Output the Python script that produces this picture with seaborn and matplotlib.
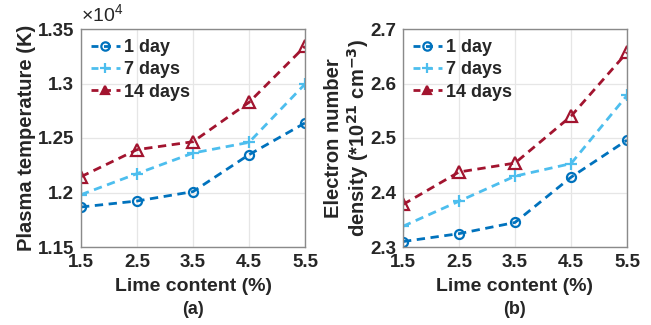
import matplotlib
matplotlib.use("Agg")
import matplotlib.pyplot as plt
import seaborn as sns
from matplotlib.ticker import FuncFormatter, FixedLocator
from matplotlib.lines import Line2D

lime = [1.5, 2.5, 3.5, 4.5, 5.5]
series = ["1 day", "7 days", "14 days"]
temp_1 = [11867, 11922, 12008, 12347, 12638]
temp_7 = [11980, 12173, 12362, 12460, 12995]
temp_14 = [12145, 12393, 12466, 12827, 13341]
dens_1 = [2.310, 2.3245, 2.345, 2.428, 2.496]
dens_7 = [2.338, 2.384, 2.430, 2.453, 2.578]
dens_14 = [2.378, 2.4376, 2.454, 2.540, 2.657]
xticks = [1.5, 2.5, 3.5, 4.5, 5.5]
temp_ticks = [11500, 12000, 12500, 13000, 13500]
dens_ticks = [2.3, 2.4, 2.5, 2.6, 2.7]

sns.set_style("white")
plt.rcParams["font.family"] = ["Liberation Sans", "DejaVu Sans"]
plt.rcParams["font.weight"] = "bold"
plt.rcParams["axes.labelweight"] = "bold"
plt.rcParams["mathtext.default"] = "bf"

colors = {"1 day": "#0072BD", "7 days": "#4DBEEE", "14 days": "#A2142F"}
markers = {"1 day": "o", "7 days": "+", "14 days": "^"}
msize = {"1 day": 6.5, "7 days": 8, "14 days": 8}
txt = "#262626"

fig = plt.figure(figsize=(6.51, 3.25), dpi=100)
ax1 = fig.add_axes([81/651, 1-247/325, 224/651, 218/325])
ax2 = fig.add_axes([403/651, 1-247/325, 224/651, 218/325])

for ax, vals, ticks in [(ax1, [temp_1, temp_7, temp_14], temp_ticks),
                        (ax2, [dens_1, dens_7, dens_14], dens_ticks)]:
    for name, v in zip(series, vals):
        sns.lineplot(x=lime, y=v, ax=ax, color=colors[name], linestyle=(0, (3, 2)),
                     linewidth=2, marker=markers[name], markersize=msize[name],
                     markerfacecolor="none", markeredgecolor=colors[name],
                     markeredgewidth=1.6, label=name)
    ax.set_xlim(1.5, 5.5)
    ax.set_ylim(ticks[0], ticks[-1])
    ax.xaxis.set_major_locator(FixedLocator(xticks))
    ax.yaxis.set_major_locator(FixedLocator(ticks))
    ax.grid(True, color="#e6e6e6", linewidth=0.9)
    for sp in ax.spines.values():
        sp.set_color("#8a8a8a")
        sp.set_linewidth(1.0)
    ax.tick_params(axis="both", labelsize=13.5, colors=txt, length=0, pad=5)
    for lab in ax.get_xticklabels() + ax.get_yticklabels():
        lab.set_fontweight("bold")
    ax.set_xlabel("Lime content (%)", fontsize=14, fontweight="bold", color=txt, labelpad=5)
    handles = [Line2D([], [], color=colors[n], linestyle=(0, (2.5, 2)), linewidth=2,
                      marker=markers[n], markersize=6 if n != "7 days" else 7,
                      markerfacecolor=colors[n] if n == "14 days" else "none",
                      markeredgecolor=colors[n], markeredgewidth=1.6) for n in series]
    ax.legend(handles, series, loc="upper left", frameon=False, handlelength=1.6,
              handletextpad=0.25, labelspacing=0.3, borderaxespad=0.35,
              borderpad=0.2, prop={"weight": "bold", "size": 13})

ax1.yaxis.set_major_formatter(FuncFormatter(lambda v, p: f"{v/1e4:g}"))
ax2.yaxis.set_major_formatter(FuncFormatter(lambda v, p: f"{v:g}"))
ax1.set_ylabel("Plasma temperature (K)", fontsize=14.5, fontweight="bold", color=txt, labelpad=1)
ax2.set_ylabel("Electron number\ndensity (*10$^{21}$ cm$^{-3}$)", fontsize=14.5,
               fontweight="bold", color=txt, labelpad=-1, linespacing=1.15)
ax1.text(0.0, 1.015, "×10$^{\\mathregular{4}}$", transform=ax1.transAxes, fontsize=14, color=txt,
         ha="left", va="bottom", fontweight="normal")
fig.text(193/651, 1-310/325, "(a)", ha="center", va="center", fontsize=13, fontweight="bold", color=txt)
fig.text(515/651, 1-310/325, "(b)", ha="center", va="center", fontsize=13, fontweight="bold", color=txt)

fig.savefig("out.png", dpi=100, facecolor="white")
